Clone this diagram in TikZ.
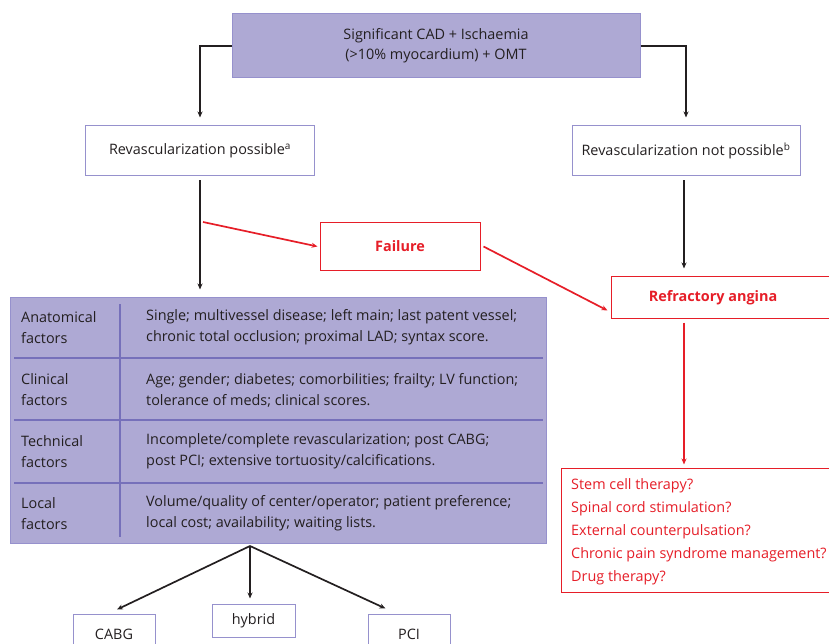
\documentclass[tikz,border=0pt]{standalone}
\usepackage{fontspec}
\setmainfont{Open Sans}
\usetikzlibrary{arrows.meta}
\definecolor{lilac}{RGB}{174,169,212}
\definecolor{lilacline}{RGB}{150,145,205}
\definecolor{rowrule}{RGB}{118,112,186}
\definecolor{alarm}{RGB}{230,30,40}
\definecolor{ink}{RGB}{35,31,32}
\newcommand{\drawblack}{\draw[ink,line width=1.7pt,-{Stealth[length=6pt,width=5pt]}]}
\newcommand{\drawred}{\draw[alarm,line width=1.7pt,-{Stealth[length=6pt,width=5pt]}]}
\newcommand{\factorrow}[4]{
    \node[rowtext,anchor=west] (#1-name) at (21,#2) {#3};
    \node[rowtext,anchor=west] (#1-list) at (146,#2) {#4};
}
\tikzset{
  every node/.style={font=\fontsize{14.4}{20}\selectfont,text=ink,inner sep=0pt},
  lilacbox/.style={draw=lilacline,fill=lilac,line width=1pt},
  whitebox/.style={draw=lilacline,fill=white,line width=1pt},
  redbox/.style={draw=alarm,fill=white,line width=1pt},
  rowtext/.style={align=left,font=\fontsize{14.4}{21}\selectfont},
  redtitle/.style={text=alarm,font=\fontsize{14.4}{20}\selectfont\bfseries}
}

\begin{document}
\begin{tikzpicture}[x=1pt,y=-1pt]
\clip (0,0) rectangle (829,644);
\node[lilacbox,minimum width=408pt,minimum height=64pt,align=center] (cad) at (436,46)
    {Significant CAD + Ischaemia\\(>10\% myocardium) + OMT};
\node[whitebox,minimum width=229pt,minimum height=50pt] (poss) at (200,151)
    {Revascularization possible\textsuperscript{a}};
\node[whitebox,minimum width=228pt,minimum height=50pt] (notposs) at (686,151)
    {Revascularization not possible\textsuperscript{b}};
\node[redbox,redtitle,minimum width=160pt,minimum height=47pt] (fail) at (400,246.5) {Failure};
\node[redbox,minimum width=236pt,minimum height=42pt] (refr) at (729,297) {};
\node[redtitle] (refrtext) at (713,298) {Refractory angina};
\node[redbox,minimum width=284pt,minimum height=124pt] (therapy) at (703,530) {};
\node[anchor=north west,align=left,text=alarm,font=\fontsize{14.4}{23}\selectfont] (therapylist) at (571,478)
    {Stem cell therapy?\\Spinal cord stimulation?\\External counterpulsation?\\Chronic pain syndrome management?\\Drug therapy?};

% factors table
\node[lilacbox,minimum width=536pt,minimum height=246pt] (factors) at (278,420) {};
\foreach \y in {358,420,483}{
    \draw[rowrule,line width=1.5pt] (14,\y)--(543,\y);
}
\draw[rowrule,line width=1.5pt] (120,304)--(120,537);
\factorrow{anat}{327.5}{Anatomical\\factors}{Single; multivessel disease; left main; last patent vessel;\\chronic total occlusion; proximal LAD; syntax score.}
\factorrow{clin}{390}{Clinical\\factors}{Age; gender; diabetes; comorbilities; frailty; LV function;\\tolerance of meds; clinical scores.}
\factorrow{tech}{451.5}{Technical\\factors}{Incomplete/complete revascularization; post CABG;\\post PCI; extensive tortuosity/calcifications.}
\factorrow{local}{513.5}{Local\\factors}{Volume/quality of center/operator; patient preference;\\local cost; availability; waiting lists.}

% treatment options
\node[whitebox,minimum width=82pt,minimum height=40pt] (cabg) at (114,634) {CABG};
\node[whitebox,minimum width=83pt,minimum height=33pt] (hybrid) at (253.5,620.5) {hybrid};
\node[whitebox,minimum width=82pt,minimum height=40pt] (pci) at (409,634) {PCI};

% arrows
\drawblack (cad.west) -| ([yshift=8pt]poss.north);
\drawblack (cad.east) -| ([yshift=8pt]notposs.north);
\drawblack ([yshift=-4pt]poss.south) -- ([yshift=7pt]poss.south |- factors.north);
\drawblack ([yshift=-4pt]notposs.south -| 684,0) -- ([yshift=7pt]refr.north -| 684,0);
\coordinate (failstart) at (203,222);
\drawred (failstart) -- ([xshift=-2pt]fail.west);
\drawred ([xshift=3pt]fail.east) -- ([xshift=-3pt,yshift=8pt]refr.south west);
\drawred ([yshift=-4pt]refr.south -| 684,0) -- ([yshift=3pt]therapy.north -| 684,0);
\coordinate (split) at (250,546);
\drawblack (split) -- ([xshift=3pt,yshift=4pt]cabg.north);
\drawblack (split) -- ([xshift=-3.5pt,yshift=5pt]hybrid.north);
\drawblack (split) -- ([xshift=18pt,yshift=5pt]pci.north west);
\end{tikzpicture}
\end{document}
